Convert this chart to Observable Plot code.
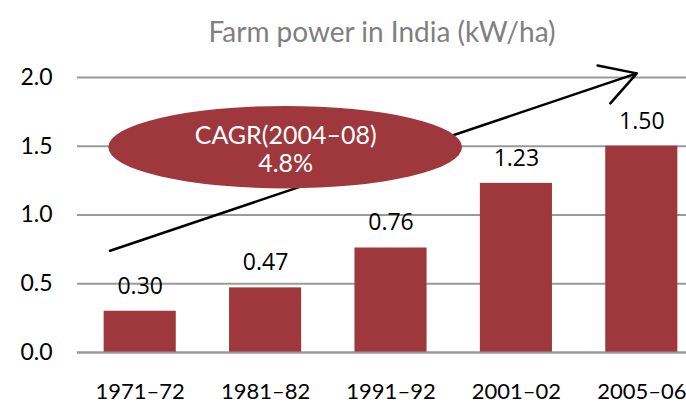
<!DOCTYPE html>
<html>
<head>
<meta charset="utf-8">
<script src="https://cdn.jsdelivr.net/npm/d3@7"></script>
<script src="https://cdn.jsdelivr.net/npm/@observablehq/plot@0.6"></script>
<style>
  html, body { margin: 0; padding: 0; background: #fff; }
  #chart svg { display: block; }
</style>
</head>
<body>
<div id="chart"></div>
<script>
const title = "Farm power in India (kW/ha)";
const categories = ["1971–72", "1981–82", "1991–92", "2001–02", "2005–06"];
const values = [0.30, 0.47, 0.76, 1.23, 1.50];
const yTicks = [0, 0.5, 1.0, 1.5, 2.0];
const annotationLines = ["CAGR(2004–08)", "4.8%"];
// annotation geometry in data units (x = category index, y = kW/ha)
const arrowFrom = {x: -0.24, y: 0.74};
const arrowTo = {x: 3.96, y: 2.03};
const ellipseCenter = {x: 1.16, y: 1.49, rx: 1.41, ry: 0.30};

const barColor = "#9E383D";
const data = categories.map((c, i) => ({i, c, v: values[i]}));
const half = 0.2875;

const ellipseMark = Plot.dot([ellipseCenter], {
  x: "x", y: "y",
  render(index, scales, vals, dims, context) {
    const g = d3.select(context.document.createElementNS("http://www.w3.org/2000/svg", "g"));
    const e = ellipseCenter;
    const cx = scales.x(e.x), cy = scales.y(e.y);
    const rx = Math.abs(scales.x(e.x + e.rx) - cx);
    const ry = Math.abs(scales.y(e.y + e.ry) - cy);
    g.append("ellipse").attr("cx", cx).attr("cy", cy).attr("rx", rx).attr("ry", ry).attr("fill", barColor);
    return g.node();
  }
});

const plot = Plot.plot({
  width: 686,
  height: 404,
  marginLeft: 77,
  marginRight: 0,
  marginTop: 77,
  marginBottom: 52,
  style: {fontFamily: "Lato, sans-serif", background: "#fff", overflow: "hidden"},
  x: {domain: [-0.5, 4.5], range: [77, 704], axis: null},
  y: {domain: [0, 2], axis: null},
  marks: [
    Plot.ruleY(yTicks, {stroke: "#9a9a9a", strokeWidth: 2}),
    Plot.rectY(data, {x1: d => d.i - half, x2: d => d.i + half, y1: 0, y2: "v", fill: barColor}),
    Plot.ruleY([0], {stroke: "#9a9a9a", strokeWidth: 2}),
    Plot.text(yTicks, {x: -0.5, y: d => d, text: d => d.toFixed(1), textAnchor: "end", dx: -25, fontSize: 23, fill: "#000"}),
    Plot.text(data, {x: "i", y: 0, text: "c", dy: 39, fontSize: 22, fill: "#000"}),
    Plot.text(data, {x: "i", y: "v", text: d => d.v.toFixed(2), dy: -25, fontSize: 23, fill: "#000", fontFamily: "Open Sans, sans-serif"}),
    Plot.arrow([{a: arrowFrom, b: arrowTo}], {x1: d => d.a.x, y1: d => d.a.y, x2: d => d.b.x, y2: d => d.b.y, stroke: "#000", strokeWidth: 2.5, headLength: 24, bend: 0}),
    ellipseMark,
    Plot.text([ellipseCenter], {x: "x", y: "y", text: () => annotationLines.join("\n"), fill: "#fff", fontSize: 25, lineHeight: 1.12, dy: 1}),
    Plot.text([title], {frameAnchor: "top", dy: -55, fontSize: 28, fill: "#808080"})
  ]
});
document.getElementById("chart").appendChild(plot);
</script>
</body>
</html>
